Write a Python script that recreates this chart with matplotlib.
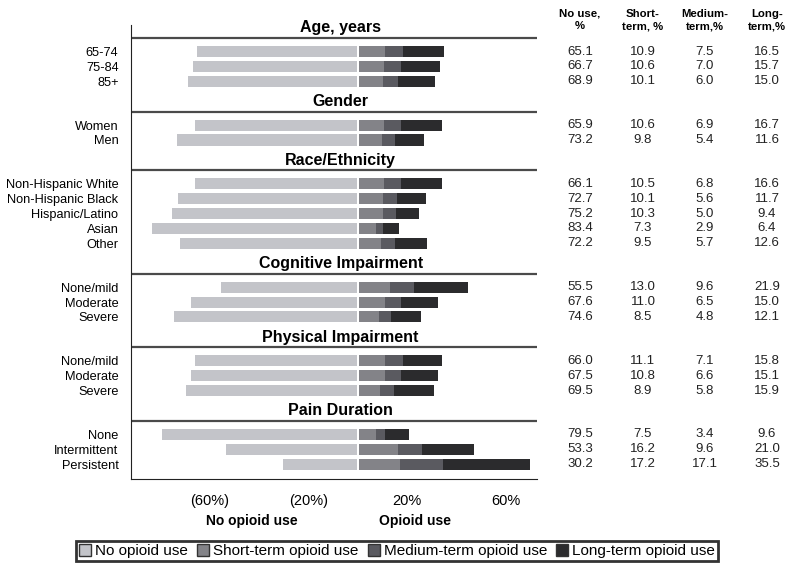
import numpy as np
import matplotlib
matplotlib.use("Agg")
import matplotlib.pyplot as plt
from matplotlib.patches import Patch
from matplotlib import transforms

plt.rcParams['font.family'] = ['Liberation Sans', 'DejaVu Sans']

# groups and row labels
groups = ["Age, years", "Gender", "Race/Ethnicity",
          "Cognitive Impairment", "Physical Impairment", "Pain Duration"]
group_rows = [
    ["65-74", "75-84", "85+"],
    ["Women", "Men"],
    ["Non-Hispanic White", "Non-Hispanic Black", "Hispanic/Latino", "Asian", "Other"],
    ["None/mild", "Moderate", "Severe"],
    ["None/mild", "Moderate", "Severe"],
    ["None", "Intermittent", "Persistent"],
]

# percentages, in row order
no_use = [65.1, 66.7, 68.9, 65.9, 73.2, 66.1, 72.7, 75.2, 83.4, 72.2,
          55.5, 67.6, 74.6, 66.0, 67.5, 69.5, 79.5, 53.3, 30.2]
short_term = [10.9, 10.6, 10.1, 10.6, 9.8, 10.5, 10.1, 10.3, 7.3, 9.5,
              13.0, 11.0, 8.5, 11.1, 10.8, 8.9, 7.5, 16.2, 17.2]
medium_term = [7.5, 7.0, 6.0, 6.9, 5.4, 6.8, 5.6, 5.0, 2.9, 5.7,
               9.6, 6.5, 4.8, 7.1, 6.6, 5.8, 3.4, 9.6, 17.1]
long_term = [16.5, 15.7, 15.0, 16.7, 11.6, 16.6, 11.7, 9.4, 6.4, 12.6,
             21.9, 15.0, 12.1, 15.8, 15.1, 15.9, 9.6, 21.0, 35.5]

col_headers = ["No use,\n%", "Short-\nterm, %", "Medium-\nterm,%", "Long-\nterm,%"]
xtick_vals = [-60, -20, 20, 60]
xtick_labels = ["(60%)", "(20%)", "20%", "60%"]

c_none = "#c3c4c9"
c_short = "#838388"
c_med = "#5a5a60"
c_long = "#2b2b2d"

# vertical layout (row units)
header_y, line_y, row_y = [], [], []
cursor = 0.2
for rows in group_rows:
    header_y.append(cursor)
    line_y.append(cursor + 0.68)
    ys = cursor + 0.68 + 0.9 + np.arange(len(rows))
    row_y.extend(ys)
    cursor = ys[-1] + 1.36
row_y = np.array(row_y)
row_labels = [lab for rows in group_rows for lab in rows]

fig = plt.figure(figsize=(8, 5.71), dpi=100)
ax = fig.add_axes([0.16375, 0.1611, 0.5075, 0.7951])

xmin, xmax = -91.9, 72.5
h = 0.74
gap = 0.5
no_use = np.array(no_use)
s = np.array(short_term)
m = np.array(medium_term)
l = np.array(long_term)

ax.barh(row_y, -(no_use - gap), left=-gap, height=h, color=c_none)
ax.barh(row_y, s - gap, left=gap, height=h, color=c_short)
ax.barh(row_y, m, left=s, height=h, color=c_med)
ax.barh(row_y, l, left=s + m, height=h, color=c_long)

for g, hy, ly in zip(groups, header_y, line_y):
    ax.hlines(ly, xmin, xmax, color="#4a4a4a", lw=1.6)
    ax.text(-7, hy, g, ha="center", va="center", fontsize=11.5, fontweight="bold")

ax.set_xlim(xmin, xmax)
ax.set_ylim(row_y[-1] + 1.0, 0)
ax.set_yticks(row_y, row_labels, fontsize=9.2)
ax.set_xticks(xtick_vals, xtick_labels, fontsize=10.5)
ax.tick_params(axis="both", length=0)
ax.tick_params(axis="x", pad=11)
ax.tick_params(axis="y", pad=9)
ax.spines["top"].set_visible(False)
ax.spines["right"].set_visible(False)
ax.spines["left"].set_color("#222222")
ax.spines["bottom"].set_color("#222222")

xt = ax.get_xaxis_transform()
ax.text(-43, -0.0925, "No opioid use", transform=xt, ha="center", va="center",
        fontsize=10, fontweight="bold")
ax.text(23, -0.0925, "Opioid use", transform=xt, ha="center", va="center",
        fontsize=10, fontweight="bold")

# table of values to the right
col_x = [580 / 800, 643 / 800, 705 / 800, 767 / 800]
tr = transforms.blended_transform_factory(fig.transFigure, ax.transData)
for cx, head, vals in zip(col_x, col_headers, [no_use, s, m, l]):
    fig.text(cx, 1 - 20 / 571, head, ha="center", va="center", fontsize=8.2,
             fontweight="bold", multialignment="center", linespacing=1.35)
    for y, v in zip(row_y, vals):
        ax.text(cx, y, f"{v:.1f}", transform=tr, ha="center", va="center",
                fontsize=9.5, color="#222222")

handles = [Patch(facecolor=c, edgecolor="#333333") for c in [c_none, c_short, c_med, c_long]]
leg = fig.legend(handles, ["No opioid use", "Short-term opioid use",
                           "Medium-term opioid use", "Long-term opioid use"],
                 loc="center", bbox_to_anchor=(397 / 800, 1 - 551 / 571), ncol=4,
                 fontsize=11, frameon=True, fancybox=False, handlelength=0.8,
                 handleheight=0.8, handletextpad=0.25, columnspacing=0.6,
                 borderpad=0.2, borderaxespad=0)
leg.get_frame().set_edgecolor("black")
leg.get_frame().set_linewidth(2)

fig.savefig("out.png", dpi=100)
